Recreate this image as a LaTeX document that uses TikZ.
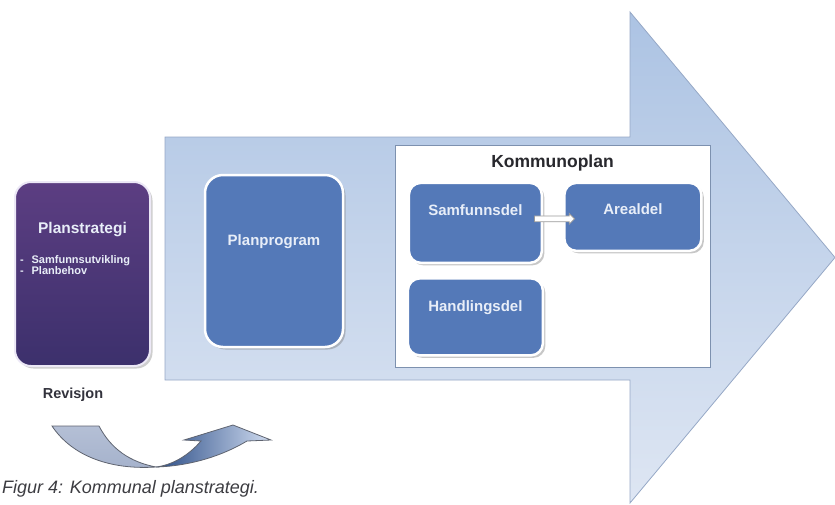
\documentclass[tikz,border=0pt]{standalone}
\usepackage{fontspec}
\setmainfont{Liberation Sans}
\usetikzlibrary{positioning,calc,shadows,shapes.arrows}

\definecolor{arrowtop}{RGB}{172,195,227}
\definecolor{arrowbot}{RGB}{222,230,243}
\definecolor{arrowline}{RGB}{150,168,198}
\definecolor{boxblue}{RGB}{84,121,184}
\definecolor{boxtext}{RGB}{232,238,248}
\definecolor{purpletop}{RGB}{92,62,130}
\definecolor{purplebot}{RGB}{60,48,108}
\definecolor{purpleline}{RGB}{236,232,246}
\definecolor{frameline}{RGB}{125,145,175}
\definecolor{titletext}{RGB}{40,40,45}
\definecolor{labeltext}{RGB}{50,50,60}
\definecolor{captiontext}{RGB}{60,60,65}
\definecolor{ribbontop}{RGB}{180,191,213}
\definecolor{ribbonback}{RGB}{165,178,204}
\definecolor{ribbondark}{RGB}{42,76,134}
\definecolor{ribbonlight}{RGB}{208,220,240}
\definecolor{ribbonline}{RGB}{95,100,112}

\begin{document}
\begin{tikzpicture}[x=1pt,y=-1pt,
    bluebox/.style={rectangle, rounded corners=12pt, fill=boxblue, draw=white, line width=2.5pt,
        text=boxtext, font=\fontsize{15}{17}\selectfont\bfseries, inner sep=0pt,
        drop shadow={shadow xshift=2.5pt, shadow yshift=-2.5pt, fill=black!55, opacity=0.4}},
    stratbox/.style={rectangle, rounded corners=16pt, top color=purpletop, bottom color=purplebot,
        draw=purpleline, line width=2pt, text=boxtext, inner xsep=5pt, inner ysep=0pt,
        drop shadow={shadow xshift=2.5pt, shadow yshift=-2.5pt, fill=black!55, opacity=0.35}},
    frame/.style={rectangle, fill=white, draw=frameline, line width=0.8pt, inner sep=0pt,
        text=titletext, font=\fontsize{17.5}{19}\selectfont\bfseries},
    linkarrow/.style={single arrow, draw=gray!80, fill=white, line width=0.8pt, inner sep=2.5pt,
        minimum height=40pt, single arrow head extend=2.5pt}]
  \tikzstyle{plainlbl}=[text=labeltext, font=\fontsize{14.5}{16}\selectfont\bfseries]
  \useasboundingbox (0,0) rectangle (835,504);

  % big process arrow
  \draw[draw=arrowline, line width=0.8pt, top color=arrowtop, bottom color=arrowbot]
    (165,137) -- (630,137) -- (630,12) -- (835,257.5) -- (630,503) -- (630,380) -- (165,380) -- cycle;

  \node[stratbox, text width=125pt, text height=51pt, text depth=133pt, align=left] (strat) at (82.5,274)
    {{\centering\fontsize{15.5}{17}\selectfont\bfseries Planstrategi\par}
     \vspace{18pt}
     {\fontsize{11}{8.5}\selectfont\bfseries -\hspace{8pt}Samfunnsutvikling\\ -\hspace{8pt}Planbehov\par}};
  \node[bluebox, rounded corners=18pt, minimum width=138pt, text height=70pt, text depth=102pt] (prog) at (274,261) {Planprogram};

  \node[frame, minimum width=315pt, text height=22pt, text depth=200pt] (kplan) at (552.5,256) {Kommunoplan};
  \node[bluebox, minimum width=133pt, text height=33pt, text depth=47pt,
        below right=37pt and 13pt of kplan.north west, anchor=north west] (samf) {Samfunnsdel};
  \node[bluebox, minimum width=137pt, text height=32pt, text depth=36pt,
        right=20pt of samf.north east, anchor=north west] (areal) {Arealdel};
  \node[bluebox, minimum width=135pt, text height=33pt, text depth=44pt,
        below=13pt of samf] (handl) {Handlingsdel};
  \node[linkarrow] (link) at ($(samf.east)!0.5!(areal.west)+(0,-1)$) {};

  \node[plainlbl] (rev) at (73,395) {Revisjon};

  % revision ribbon
  \draw[ribbonline, line width=0.8pt, top color=ribbontop, bottom color=ribbonback]
    (52,426) -- (99,426) .. controls (111,449) and (130,462) .. (156,467)
    .. controls (110,470) and (72,456) .. (52,426) -- cycle;
  \draw[ribbonline, line width=0.8pt, left color=ribbondark, right color=ribbonlight]
    (156,467) .. controls (190,466) and (222,456) .. (247,441) -- (271,440) -- (233,425)
    -- (184,440) -- (201,441) .. controls (188,456) and (172,465) .. (156,467) -- cycle;

  \node[anchor=west, text=captiontext, font=\fontsize{18}{20}\selectfont\itshape, inner sep=0pt]
    (cap) at (2,489) {Figur 4: Kommunal planstrategi.};
\end{tikzpicture}
\end{document}
